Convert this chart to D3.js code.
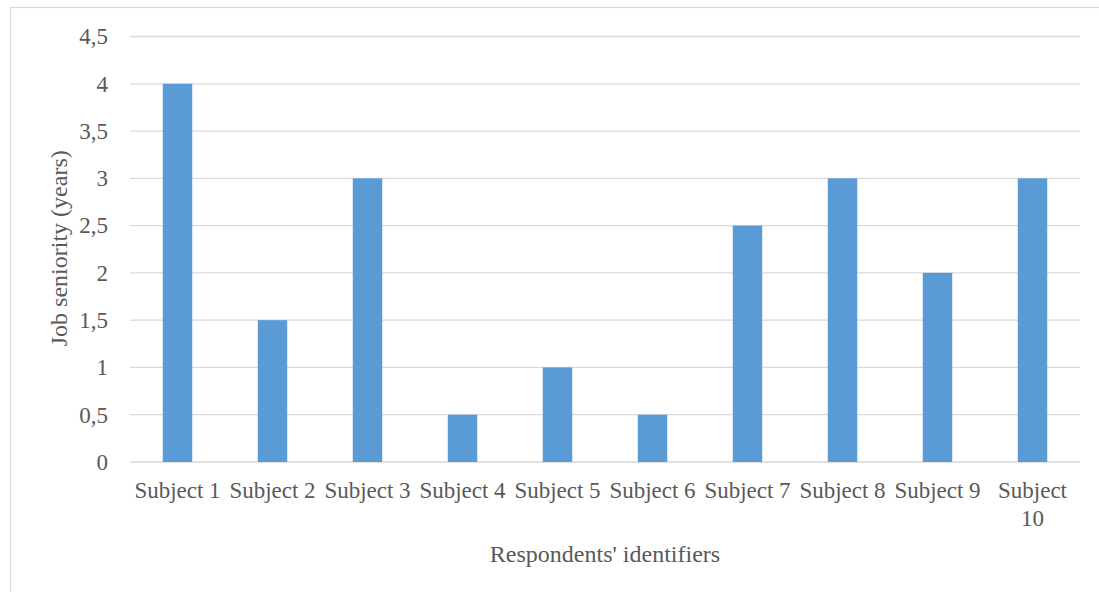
<!DOCTYPE html>
<html>
<head>
<meta charset="utf-8">
<script src="https://cdn.jsdelivr.net/npm/d3@7"></script>
<style>
  html, body { margin: 0; padding: 0; background: #fff; }
  svg { display: block; }
  text { font-family: "Liberation Serif", "Times New Roman", serif; fill: #595959; }
</style>
</head>
<body>
<svg id="chart" width="1099" height="592"></svg>
<script>
const categories = ["Subject 1", "Subject 2", "Subject 3", "Subject 4", "Subject 5",
                    "Subject 6", "Subject 7", "Subject 8", "Subject 9", "Subject 10"];
const seniority = [4, 1.5, 3, 0.5, 1, 0.5, 2.5, 3, 2, 3];
const yTicks = [0, 0.5, 1, 1.5, 2, 2.5, 3, 3.5, 4, 4.5];
const xTitle = "Respondents' identifiers";
const yTitle = "Job seniority (years)";

const svg = d3.select("#chart");
const W = 1099, H = 592;
const plot = { left: 130, right: 1080, top: 36.5, bottom: 462 };
const FS = 23;
const TITLE_FS = 24;

// outer chart frame
svg.append("rect")
  .attr("x", 10.5).attr("y", 7.5)
  .attr("width", W + 10).attr("height", H + 10)
  .attr("fill", "none").attr("stroke", "#d9d9d9").attr("stroke-width", 1.3);

const x = d3.scaleBand().domain(categories).range([plot.left, plot.right]).paddingInner(0.69).paddingOuter(0.345);
const y = d3.scaleLinear().domain([0, 4.5]).range([plot.bottom, plot.top]);

// horizontal gridlines
svg.append("g").selectAll("line").data(yTicks).join("line")
  .attr("x1", plot.left).attr("x2", plot.right)
  .attr("y1", d => y(d)).attr("y2", d => y(d))
  .attr("stroke", "#d9d9d9").attr("stroke-width", 1.3);

// bars
svg.append("g").selectAll("rect").data(seniority).join("rect")
  .attr("x", (d, i) => x(categories[i]))
  .attr("width", x.bandwidth())
  .attr("y", d => y(d))
  .attr("height", d => y(0) - y(d))
  .attr("fill", "#5b9bd5");

// y axis labels
const yAxis = d3.axisLeft(y).tickValues(yTicks).tickSize(0).tickPadding(0)
  .tickFormat(d => String(d).replace(".", ","));
const yg = svg.append("g").attr("transform", `translate(${plot.left - 22},0)`).call(yAxis);
yg.select(".domain").remove();
yg.selectAll("text").attr("font-size", FS).attr("font-family", "Liberation Serif").attr("fill", "#595959");

// x axis labels, wrapping at the category width
const xAxis = d3.axisBottom(x).tickSize(0).tickPadding(0);
const xg = svg.append("g").attr("transform", `translate(0,${plot.bottom})`).call(xAxis);
xg.select(".domain").remove();
xg.selectAll("text")
  .attr("font-size", FS).attr("font-family", "Liberation Serif").attr("fill", "#595959")
  .attr("dy", null).attr("y", 36)
  .each(function (d) {
    const t = d3.select(this);
    const words = d.split(" ");
    t.text(null);
    const full = t.append("tspan").attr("x", 0).text(d);
    if (full.node().getComputedTextLength() > x.step()) {
      full.text(words[0]);
      t.append("tspan").attr("x", 0).attr("dy", 28).text(words.slice(1).join(" "));
    }
  });

// axis titles
svg.append("text")
  .attr("x", (plot.left + plot.right) / 2).attr("y", 562)
  .attr("text-anchor", "middle").attr("font-size", TITLE_FS)
  .text(xTitle);

svg.append("text")
  .attr("transform", `translate(67,${(plot.top + plot.bottom) / 2 - 1}) rotate(-90)`)
  .attr("text-anchor", "middle").attr("font-size", TITLE_FS)
  .text(yTitle);
</script>
</body>
</html>
